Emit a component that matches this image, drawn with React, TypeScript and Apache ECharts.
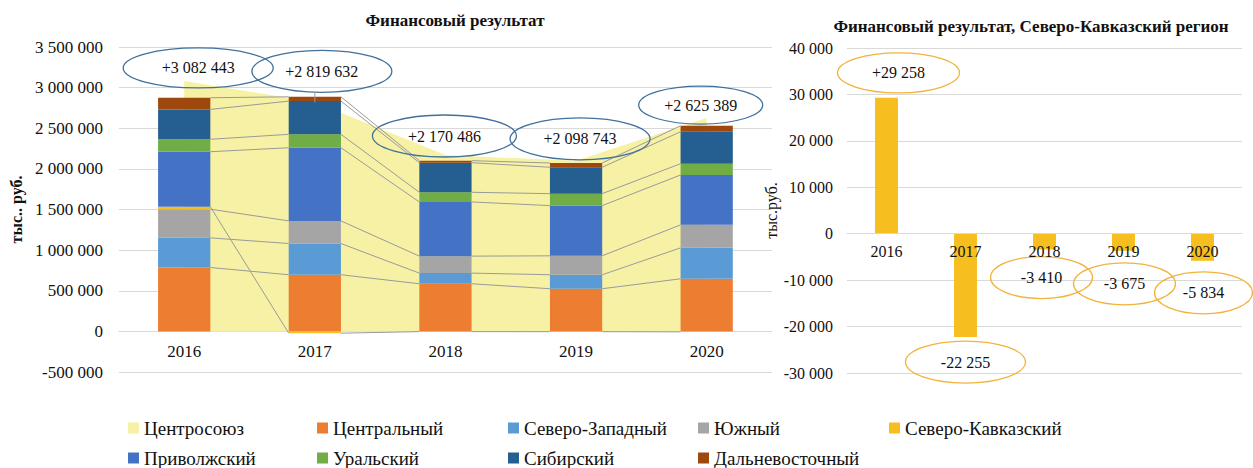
import React, { useEffect, useRef } from "react";
import * as echarts from "echarts";

// ---------- data ----------
const years = ["2016", "2017", "2018", "2019", "2020"];
const centrosoyuz = [3082443, 2819632, 2170486, 2098743, 2625389];
const central = [786000, 697000, 586000, 525000, 647000];
const northWest = [365000, 384000, 131000, 172000, 381000];
const south = [353000, 279000, 209000, 233000, 283000];
const northCaucasus = [29258, -22255, -3410, -3675, -5834];
const volga = [678000, 900000, 667000, 618000, 614000];
const ural = [153000, 165000, 119000, 147000, 139000];
const siberia = [368000, 409000, 364000, 325000, 393000];
const farEast = [143000, 53000, 25000, 52000, 74000];

const leftTitle = "Финансовый результат";
const rightTitle = "Финансовый результат, Северо-Кавказский регион";
const leftAxisName = "тыс.. руб.";
const rightAxisName = "тыс.руб.";

// ---------- layout / style (not data) ----------
const FONT = "Liberation Serif";
const LEFT_BAR_RATIO = 0.4;
const LEFT_GRID = { left: 115, right: 481, top: 47, bottom: 96 };
const RIGHT_GRID = { left: 847, right: 11, top: 48, bottom: 95 };
const CHART_H = 468;
const leftRange = { min: -500000, max: 3500000, interval: 500000 };
const rightRange = { min: -30000, max: 40000, interval: 10000 };

const leftCallouts = [
  { dx: 14, dy: -13, rx: 75, ry: 20 },
  { dx: 7, dy: -31, rx: 70, ry: 21 },
  { dx: -1, dy: -19, rx: 72, ry: 21 },
  { dx: 4, dy: -22, rx: 70, ry: 21 },
  { dx: -6, dy: -13, rx: 62, ry: 19 },
];
const rightCallouts = [
  { dx: 12, dy: -25, rx: 61, ry: 20 },
  { dx: 0, dy: 25, rx: 60, ry: 21 },
  { dx: -3, dy: 28, rx: 51, ry: 21 },
  { dx: 1, dy: 33, rx: 51, ry: 21 },
  { dx: 1, dy: 32, rx: 49, ry: 21 },
];

const stackDefs = [
  { name: "Центральный", data: central, color: "#ED7D31" },
  { name: "Северо-Западный", data: northWest, color: "#5B9BD5" },
  { name: "Южный", data: south, color: "#A5A5A5" },
  { name: "Северо-Кавказский", data: northCaucasus, color: "#F6BE1E" },
  { name: "Приволжский", data: volga, color: "#4472C4" },
  { name: "Уральский", data: ural, color: "#70AD47" },
  { name: "Сибирский", data: siberia, color: "#255E91" },
  { name: "Дальневосточный", data: farEast, color: "#9E480E" },
];
const AREA_COLOR = "#F6F1A5";

function fmt(v: number): string {
  const s = String(Math.abs(Math.round(v))).replace(/\B(?=(\d{3})+(?!\d))/g, " ");
  return (v < 0 ? "-" : "") + s;
}
function fmtSigned(v: number): string {
  return (v > 0 ? "+" : "") + fmt(v);
}

// offset that moves a bottom category axis up to the value 0 of the value axis
function zeroOffset(grid: typeof LEFT_GRID, range: typeof leftRange): number {
  const h = CHART_H - grid.top - grid.bottom;
  return -((0 - range.min) / (range.max - range.min)) * h;
}

// cumulative segment ends (same-sign stacking), derived from the data
function stackEnds(): number[][] {
  const levels: number[][] = stackDefs.map(() => []);
  for (let j = 0; j < years.length; j++) {
    let pos = 0;
    let neg = 0;
    stackDefs.forEach((s, i) => {
      const v = s.data[j];
      if (v >= 0) {
        pos += v;
        levels[i][j] = pos;
      } else {
        neg += v;
        levels[i][j] = neg;
      }
    });
  }
  return levels;
}

function calloutRenderer(layout: typeof leftCallouts, stroke: string, leader: boolean) {
  return (params: any, api: any) => {
    const j = api.value(0);
    const v = api.value(1);
    const p = api.coord([j, v]);
    const l = layout[j];
    const cx = p[0] + l.dx;
    const cy = p[1] + l.dy;
    const children: any[] = [
      {
        type: "ellipse",
        shape: { cx, cy, rx: l.rx, ry: l.ry },
        style: { fill: "none", stroke, lineWidth: 1.3 },
      },
      {
        type: "text",
        style: {
          text: fmtSigned(v),
          x: cx,
          y: cy,
          align: "center",
          verticalAlign: "middle",
          textAlign: "center",
          textVerticalAlign: "middle",
          fontSize: 16,
          fontFamily: FONT,
          fill: "#111",
        },
      },
    ];
    if (leader) {
      const ex = p[0] - cx;
      if (Math.abs(ex) < l.rx) {
        const yb = cy + l.ry * Math.sqrt(1 - (ex / l.rx) * (ex / l.rx));
        if (yb < p[1]) {
          children.push({
            type: "line",
            shape: { x1: p[0], y1: yb, x2: p[0], y2: p[1] },
            style: { stroke: "#9a9a9a", lineWidth: 1 },
          });
        }
      }
    }
    return { type: "group", children };
  };
}

export default function App() {
  const ref = useRef<HTMLDivElement>(null);

  useEffect(() => {
    if (!ref.current) return;
    const chart = echarts.init(ref.current, null, { renderer: "svg" });
    const levels = stackEnds();

    const splitLine = { show: true, lineStyle: { color: "#d9d9d9", width: 1 } };

    const legendCols = [
      ["Центросоюз", "Приволжский"],
      ["Центральный", "Уральский"],
      ["Северо-Западный", "Сибирский"],
      ["Южный", "Дальневосточный"],
      ["Северо-Кавказский"],
    ];
    const legendLefts = [128, 317, 508, 698, 889];

    const option: any = {
      animation: false,
      backgroundColor: "#fff",
      textStyle: { fontFamily: FONT },
      title: [
        {
          text: leftTitle,
          left: 455,
          top: 12,
          padding: 0,
          textAlign: "center",
          textStyle: { fontFamily: FONT, fontSize: 17, fontWeight: "bold", color: "#111" },
        },
        {
          text: rightTitle,
          left: 1031,
          top: 18,
          padding: 0,
          textAlign: "center",
          textStyle: { fontFamily: FONT, fontSize: 17, fontWeight: "bold", color: "#111" },
        },
      ],
      legend: legendCols.map((col, k) => ({
        data: col,
        orient: "vertical",
        left: legendLefts[k],
        top: 418,
        padding: 0,
        itemGap: 10,
        itemWidth: 11,
        itemHeight: 11,
        icon: "rect",
        selectedMode: false,
        textStyle: { fontFamily: FONT, fontSize: 19, color: "#111", lineHeight: 20 },
      })),
      grid: [LEFT_GRID, RIGHT_GRID],
      xAxis: [
        {
          type: "category",
          gridIndex: 0,
          data: years,
          offset: zeroOffset(LEFT_GRID, leftRange),
          axisTick: { show: false },
          axisLine: { show: true, onZero: false, lineStyle: { color: "#d9d9d9" } },
          axisLabel: { fontFamily: FONT, color: "#111", fontSize: 17, margin: 12 },
        },
        {
          type: "category",
          gridIndex: 1,
          data: years,
          z: 10,
          offset: zeroOffset(RIGHT_GRID, rightRange),
          axisTick: { show: false },
          axisLine: { show: true, onZero: false, lineStyle: { color: "#d9d9d9" } },
          axisLabel: { fontFamily: FONT, color: "#111", fontSize: 16, margin: 10 },
        },
      ],
      yAxis: [
        {
          type: "value",
          gridIndex: 0,
          ...leftRange,
          name: leftAxisName,
          nameLocation: "middle",
          nameGap: 92,
          nameTextStyle: { fontFamily: FONT, fontSize: 16, fontWeight: "bold", color: "#111" },
          axisLine: { show: false },
          axisTick: { show: false },
          splitLine,
          axisLabel: { fontFamily: FONT, color: "#111", fontSize: 17, margin: 16, formatter: (v: number) => fmt(v) },
        },
        {
          type: "value",
          gridIndex: 1,
          ...rightRange,
          name: rightAxisName,
          nameLocation: "middle",
          nameGap: 66,
          nameTextStyle: { fontFamily: FONT, fontSize: 16, color: "#111" },
          axisLine: { show: false },
          axisTick: { show: false },
          splitLine,
          axisLabel: { fontFamily: FONT, color: "#111", fontSize: 16, margin: 14, formatter: (v: number) => fmt(v) },
        },
      ],
      series: [
        {
          name: "Центросоюз",
          type: "line",
          xAxisIndex: 0,
          yAxisIndex: 0,
          data: centrosoyuz,
          symbol: "none",
          lineStyle: { width: 0, color: AREA_COLOR },
          itemStyle: { color: AREA_COLOR },
          areaStyle: { color: AREA_COLOR, opacity: 1 },
          z: 1,
        },
        ...stackDefs.map((s) => ({
          name: s.name,
          type: "bar",
          xAxisIndex: 0,
          yAxisIndex: 0,
          stack: "regions",
          barWidth: `${LEFT_BAR_RATIO * 100}%`,
          data: s.data,
          itemStyle: { color: s.color },
          z: 2,
        })),
        {
          name: "series-lines",
          type: "custom",
          xAxisIndex: 0,
          yAxisIndex: 0,
          clip: false,
          z: 3,
          silent: true,
          data: years.slice(0, -1).map((_, j) => [j, 0]),
          encode: { x: 0, y: 1 },
          renderItem: (params: any, api: any) => {
            const j = api.value(0);
            const band = api.size([1, 0])[0];
            const half = (band * LEFT_BAR_RATIO) / 2;
            const children = levels.map((lv) => {
              const p1 = api.coord([j, lv[j]]);
              const p2 = api.coord([j + 1, lv[j + 1]]);
              return {
                type: "line",
                shape: { x1: p1[0] + half, y1: p1[1], x2: p2[0] - half, y2: p2[1] },
                style: { stroke: "#9a9a9a", lineWidth: 1 },
              };
            });
            return { type: "group", children };
          },
        },
        {
          name: "left-callouts",
          type: "custom",
          xAxisIndex: 0,
          yAxisIndex: 0,
          clip: false,
          z: 4,
          silent: true,
          data: centrosoyuz.map((v, j) => [j, v]),
          encode: { x: 0, y: 1 },
          renderItem: calloutRenderer(leftCallouts, "#41719C", true),
        },
        {
          name: "Северо-Кавказский",
          type: "bar",
          xAxisIndex: 1,
          yAxisIndex: 1,
          barWidth: "29%",
          data: northCaucasus,
          itemStyle: { color: "#F6BE1E" },
          z: 2,
        },
        {
          name: "right-callouts",
          type: "custom",
          xAxisIndex: 1,
          yAxisIndex: 1,
          clip: false,
          z: 4,
          silent: true,
          data: northCaucasus.map((v, j) => [j, v]),
          encode: { x: 0, y: 1 },
          renderItem: calloutRenderer(rightCallouts, "#F2B33D", false),
        },
      ],
    };

    chart.setOption(option);
    return () => chart.dispose();
  }, []);

  return (
    <div
      ref={ref}
      style={{ position: "absolute", left: 0, top: 0, width: 1253, height: 468 }}
    />
  );
}
